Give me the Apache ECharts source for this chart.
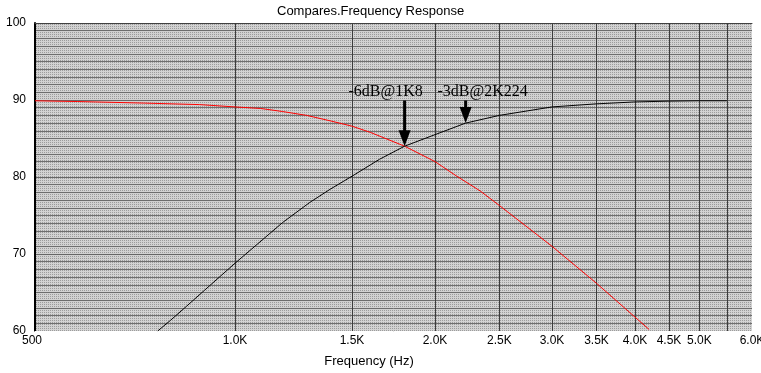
<!DOCTYPE html>
<html>
<head>
<meta charset="utf-8">
<script src="https://cdn.jsdelivr.net/npm/echarts@6/dist/echarts.min.js"></script>
<style>
html,body{margin:0;padding:0;background:#fff;}
#chart{width:761px;height:373px;}
</style>
</head>
<body>
<div id="chart"></div>
<script>
// ---- data ----
const titleText = 'Compares.Frequency Response';
const xAxisName = 'Frequency (Hz)';
const freqTicks = [500, 1000, 1500, 2000, 2500, 3000, 3500, 4000, 4500, 5000, 5500, 6000];
const freqTickLabels = ['500', '1.0K', '1.5K', '2.0K', '2.5K', '3.0K', '3.5K', '4.0K', '4.5K', '5.0K', '', '6.0K'];

// high-pass (black) response
const hpFreq = [765, 800, 845, 900, 1000, 1180, 1296, 1390, 1500, 1650, 1800, 2000, 2224, 2500, 3000, 3500, 4000, 4500, 5000, 5500];
const hpDb   = [60.0, 61.4, 63.2, 65.3, 68.8, 74.1, 76.7, 78.4, 80.1, 82.3, 84.0, 85.5, 87.0, 88.0, 89.1, 89.5, 89.75, 89.85, 89.9, 89.9];

// low-pass (red) response
const lpFreq = [500, 580, 730, 885, 1000, 1093, 1180, 1282, 1390, 1500, 1598, 1800, 2000, 2157, 2338, 2500, 3000, 3500, 4000, 4200];
const lpDb   = [89.9, 89.8, 89.6, 89.4, 89.1, 88.9, 88.5, 88.0, 87.3, 86.6, 85.8, 84.0, 82.0, 80.1, 78.2, 76.3, 71.0, 66.2, 61.8, 60.2];

// annotations
const annFreq = [1800, 2224];
const annDb   = [84.0, 87.0];
const annText = ['-6dB@1K8', '-3dB@2K224'];

// ---- style helpers ----
const annLabelDx = [-19, 17];
const SANS = '"Liberation Sans", Arial, sans-serif';
const SERIF = '"Liberation Serif", "Times New Roman", serif';

const pc = document.createElement('canvas');
pc.width = 2; pc.height = 2;
const pctx = pc.getContext('2d');
pctx.fillStyle = '#d2d2d2'; pctx.fillRect(0, 0, 2, 2);
pctx.fillStyle = '#9c9c9c'; pctx.fillRect(0, 0, 1, 1);

const chart = echarts.init(document.getElementById('chart'), null, {renderer: 'canvas'});

const option = {
  animation: false,
  backgroundColor: '#ffffff',
  title: {
    text: titleText,
    left: 277, top: 5, padding: 0,
    textStyle: {fontFamily: SANS, fontSize: 13, fontWeight: 'normal', color: '#000'}
  },
  grid: {
    left: 35, right: 9, top: 23, bottom: 41,
    show: true,
    backgroundColor: {image: pc, repeat: 'repeat'},
    borderWidth: 0
  },
  xAxis: [{
    type: 'log', logBase: 10, min: 500, max: 6000,
    position: 'bottom',
    axisLine: {show: true, lineStyle: {color: '#ffffff', width: 1}},
    axisTick: {show: false},
    axisLabel: {show: false},
    splitLine: {show: false},
    name: xAxisName,
    nameLocation: 'middle',
    nameGap: 24,
    nameTextStyle: {fontFamily: SANS, fontSize: 13, color: '#000', padding: [0, 49, 0, 0]}
  }, {
    type: 'log', logBase: 10, min: 500, max: 6000,
    position: 'top',
    axisLine: {show: true, lineStyle: {color: '#404040', width: 1}},
    axisTick: {show: false},
    axisLabel: {show: false},
    splitLine: {show: false}
  }],
  yAxis: [{
    type: 'value', min: 60, max: 100, interval: 10,
    position: 'left',
    axisLine: {show: true, lineStyle: {color: '#000', width: 2}},
    axisTick: {show: false},
    axisLabel: {fontFamily: SANS, fontSize: 12, color: '#000', margin: 9},
    splitLine: {show: true, lineStyle: {color: '#666', width: 1}},
    minorTick: {show: false, splitNumber: 10},
    minorSplitLine: {show: true, lineStyle: {color: '#6e6e6e', width: 1}}
  }, {
    type: 'value', min: 60, max: 100, interval: 10,
    position: 'right',
    axisLine: {show: true, lineStyle: {color: '#ffffff', width: 1}},
    axisTick: {show: false},
    axisLabel: {show: false},
    splitLine: {show: false}
  }],
  series: [{
    type: 'custom',
    name: 'xgrid',
    xAxisIndex: 0, yAxisIndex: 0,
    z: 1,
    silent: true,
    clip: false,
    data: freqTicks.map(f => [f, 60]),
    renderItem: function (params, api) {
      const f = api.value(0);
      const i = params.dataIndex;
      const bot = api.coord([f, 60]);
      const top = api.coord([f, 100]);
      const children = [];
      if (i > 0 && i < freqTicks.length - 1) {
        const x = Math.round(bot[0]) + 0.5;
        children.push({
          type: 'line',
          shape: {x1: x, y1: top[1], x2: x, y2: bot[1]},
          style: {stroke: '#3c3c3c', lineWidth: 1}
        });
      }
      children.push({
        type: 'text',
        style: {
          text: freqTickLabels[i],
          x: bot[0] - (i === 0 ? 3 : 0), y: bot[1] + 4,
          align: 'center', verticalAlign: 'top',
          font: '12px ' + SANS, fill: '#000'
        }
      });
      return {type: 'group', children: children};
    }
  }, {
    type: 'line',
    name: 'Low-pass',
    z: 3,
    showSymbol: false,
    symbol: 'none',
    lineStyle: {color: '#ff0000', width: 1},
    data: lpFreq.map((f, i) => [f, lpDb[i]])
  }, {
    type: 'line',
    name: 'High-pass',
    z: 3,
    showSymbol: false,
    symbol: 'none',
    lineStyle: {color: '#000000', width: 1},
    data: hpFreq.map((f, i) => [f, hpDb[i]])
  }, {
    type: 'custom',
    name: 'annotations',
    z: 4,
    silent: true,
    clip: false,
    data: annFreq.map((f, i) => [f, annDb[i]]),
    renderItem: function (params, api) {
      const i = params.dataIndex;
      const tip = api.coord([api.value(0), api.value(1)]);
      const top = api.coord([api.value(0), 90]);
      const x = tip[0];
      const headH = 16, headW = 12;
      const yTop = top[1] + 0.5;
      return {
        type: 'group',
        children: [{
          type: 'rect',
          shape: {x: x - 1.5, y: yTop, width: 3, height: (tip[1] - headH) - yTop + 1},
          style: {fill: '#000'}
        }, {
          type: 'polygon',
          shape: {points: [[x - headW / 2, tip[1] - headH], [x + headW / 2, tip[1] - headH], [x, tip[1]]]},
          style: {fill: '#000'}
        }, {
          type: 'text',
          style: {
            text: annText[i],
            x: x + annLabelDx[i], y: yTop - 1,
            align: 'center', verticalAlign: 'bottom',
            font: '16px ' + SERIF, fill: '#000'
          }
        }]
      };
    }
  }]
};
chart.setOption(option);
</script>
</body>
</html>
